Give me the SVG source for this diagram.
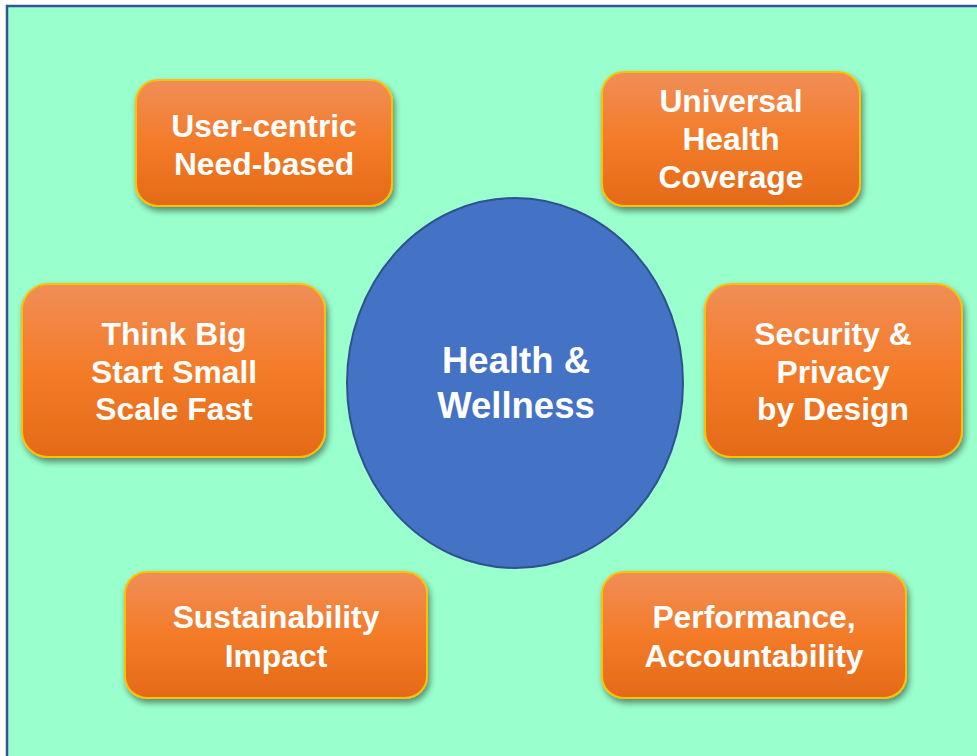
<svg xmlns="http://www.w3.org/2000/svg" width="977" height="756" viewBox="0 0 977 756">
<defs>
<linearGradient id="og" x1="0" y1="0" x2="0" y2="1">
<stop offset="0" stop-color="#f08e58"/>
<stop offset="0.5" stop-color="#f47b28"/>
<stop offset="1" stop-color="#e46a18"/>
</linearGradient>
<filter id="sh" x="-10%" y="-10%" width="125%" height="130%">
<feGaussianBlur in="SourceAlpha" stdDeviation="3"/>
<feOffset dx="2" dy="4" result="b"/>
<feComponentTransfer><feFuncA type="linear" slope="0.45"/></feComponentTransfer>
<feMerge><feMergeNode/><feMergeNode in="SourceGraphic"/></feMerge>
</filter>
</defs>
<style>
.box{fill:url(#og);stroke:#ffc000;stroke-width:2;filter:url(#sh)}
.t{font-family:"Liberation Sans",Arial,sans-serif;font-weight:bold;font-size:31.8px;fill:#ffffff;text-anchor:middle}
.c{font-size:36.5px}
</style>
<rect x="7" y="6" width="980" height="760" fill="#99ffcc" stroke="#2f5597" stroke-width="2.5"/>
<g id="center">
<ellipse cx="515" cy="383" rx="168" ry="185" fill="#4472c4" stroke="#2f528f" stroke-width="2"/>
<text class="t c" x="516" y="373">Health &amp;</text>
<text class="t c" x="516" y="418">Wellness</text>
</g>
<g id="user-centric">
<rect class="box" x="136" y="80" width="256" height="126" rx="22"/>
<text class="t" x="264" y="137">User-centric</text>
<text class="t" x="264" y="175">Need-based</text>
</g>
<g id="universal">
<rect class="box" x="602" y="72" width="258" height="134" rx="22"/>
<text class="t" x="731" y="112">Universal</text>
<text class="t" x="731" y="150">Health</text>
<text class="t" x="731" y="188">Coverage</text>
</g>
<g id="think-big">
<rect class="box" x="22" y="284" width="303" height="173" rx="26"/>
<text class="t" x="174" y="345">Think Big</text>
<text class="t" x="174" y="383">Start Small</text>
<text class="t" x="174" y="420">Scale Fast</text>
</g>
<g id="security">
<rect class="box" x="705" y="284" width="257" height="173" rx="26"/>
<text class="t" x="833" y="345">Security &amp;</text>
<text class="t" x="833" y="383">Privacy</text>
<text class="t" x="833" y="420">by Design</text>
</g>
<g id="sustainability">
<rect class="box" x="125" y="572" width="302" height="126" rx="22"/>
<text class="t" x="276" y="628">Sustainability</text>
<text class="t" x="276" y="667">Impact</text>
</g>
<g id="performance">
<rect class="box" x="602" y="572" width="304" height="126" rx="22"/>
<text class="t" x="754" y="628">Performance,</text>
<text class="t" x="754" y="667">Accountability</text>
</g>
<g id="connectors"></g>
</svg>
